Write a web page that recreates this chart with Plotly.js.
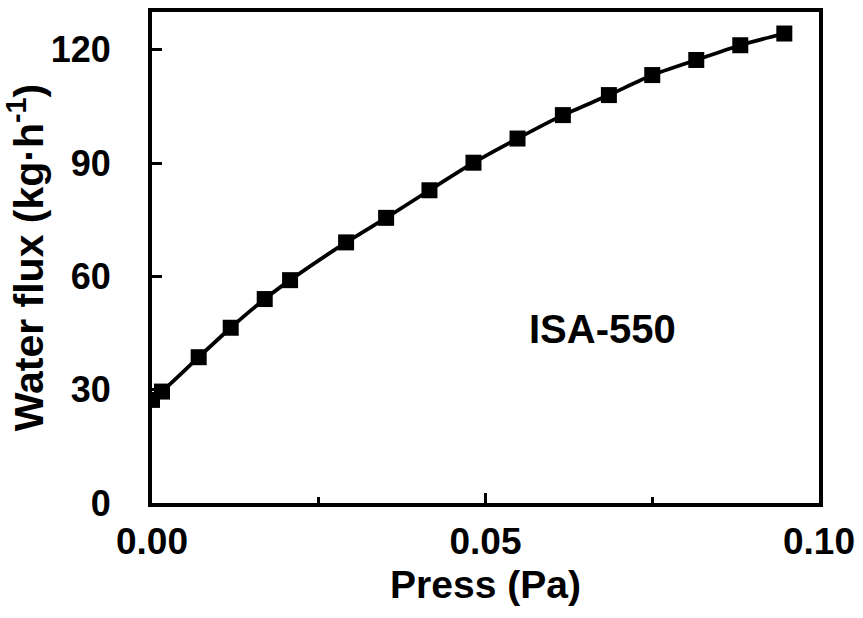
<!DOCTYPE html>
<html>
<head>
<meta charset="utf-8">
<script src="https://cdn.plot.ly/plotly-3.0.1.min.js"></script>
<style>html,body{margin:0;padding:0;background:#fff;}#chart{width:863px;height:618px;}</style>
</head>
<body>
<div id="chart"></div>
<script>
const press = [0.0000, 0.0015, 0.0070, 0.0118, 0.0169, 0.0207, 0.0291, 0.0351, 0.0416, 0.0482, 0.0548, 0.0616, 0.0685, 0.0750, 0.0816, 0.0882, 0.0948];
const flux  = [27.3, 29.5, 38.6, 46.4, 54.0, 59.0, 69.0, 75.5, 82.8, 90.1, 96.5, 102.7, 108.0, 113.3, 117.3, 121.2, 124.3];
const sampleLabel = 'ISA-550';

const fontFam = '"Liberation Sans", Arial, sans-serif';
const trace = {
  x: press, y: flux, type: 'scatter', mode: 'lines+markers',
  line: {color: '#000', width: 3.8, shape: 'spline', smoothing: 0.6},
  marker: {symbol: 'square', size: 16, color: '#000'},
  showlegend: false
};
const layout = {
  width: 863, height: 618,
  margin: {l: 152, r: 44, t: 12, b: 115},
  paper_bgcolor: '#fff', plot_bgcolor: '#fff',
  font: {family: fontFam, color: '#000'},
  xaxis: {
    range: [0, 0.1], dtick: 0.05, tick0: 0, tickformat: '.2f',
    showgrid: false, zeroline: false,
    showline: true, linewidth: 4, linecolor: '#000', mirror: true,
    ticks: 'inside', ticklen: 10, tickwidth: 3, tickcolor: '#000',
    minor: {dtick: 0.025, ticks: 'inside', ticklen: 6, tickwidth: 3, tickcolor: '#000'},
    ticklabelstandoff: 3,
    tickfont: {size: 37, family: fontFam, weight: 'bold'},
    title: {text: '<b>Press (Pa)</b>', font: {size: 39, family: fontFam}, standoff: 10}
  },
  yaxis: {
    range: [0, 130], dtick: 30, tick0: 0,
    showgrid: false, zeroline: false,
    showline: true, linewidth: 4, linecolor: '#000', mirror: true,
    ticks: 'inside', ticklen: 10, tickwidth: 3, tickcolor: '#000',
    ticklabelstandoff: 30,
    tickfont: {size: 36, family: fontFam, weight: 'bold'},
    title: {text: '<b>Water flux (kg·h<sup>-1</sup>)</b>', font: {size: 41, family: fontFam}, standoff: 6}
  },
  annotations: [{
    x: 0.0675, y: 46, xref: 'x', yref: 'y',
    text: '<b>' + sampleLabel + '</b>', showarrow: false,
    font: {size: 40, family: fontFam, color: '#000'}
  }]
};
Plotly.newPlot('chart', [trace], layout, {staticPlot: true, displayModeBar: false});
</script>
</body>
</html>
